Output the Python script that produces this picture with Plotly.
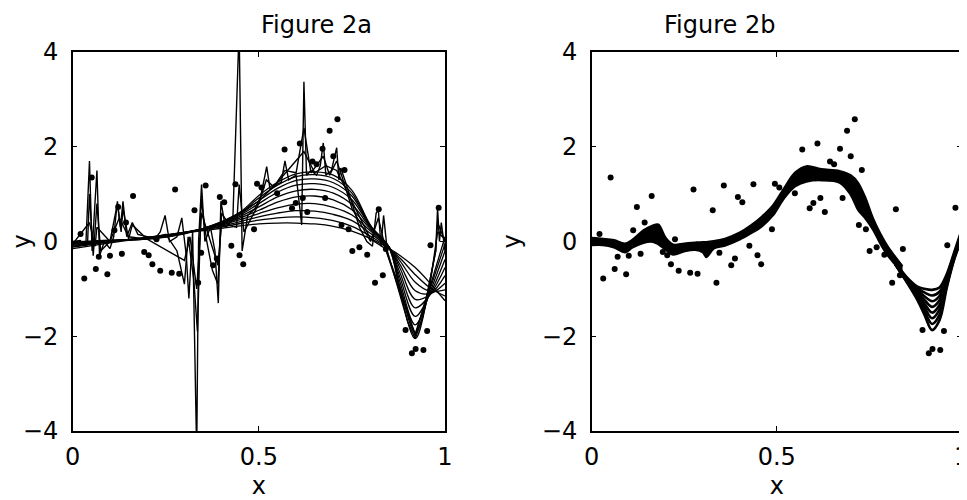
import plotly.graph_objects as go
from plotly.subplots import make_subplots

# observed data points (same sample in both panels)
pts_x = [0.021, 0.031, 0.051, 0.062, 0.070, 0.093, 0.100, 0.112, 0.122, 0.132,
         0.143, 0.162, 0.192, 0.204, 0.214, 0.225, 0.235, 0.266, 0.275, 0.286,
         0.327, 0.337, 0.345, 0.357, 0.377, 0.387, 0.395, 0.407, 0.426, 0.437,
         0.448, 0.458, 0.487, 0.495, 0.507, 0.549, 0.569, 0.589, 0.599, 0.610,
         0.618, 0.630, 0.644, 0.655, 0.671, 0.678, 0.690, 0.700, 0.711, 0.722,
         0.730, 0.741, 0.751, 0.770, 0.791, 0.812, 0.822, 0.833, 0.841, 0.894,
         0.911, 0.921, 0.942, 0.952, 0.961, 0.983]
pts_y = [0.16, -0.78, 1.35, -0.58, -0.32, -0.69, -0.30, 0.24, 0.73, -0.26,
         0.40, 0.96, -0.22, -0.29, -0.48, 0.05, -0.62, -0.66, 1.10, -0.68,
         0.66, -0.87, -0.24, 1.18, -0.50, -0.36, 0.94, 0.83, -0.09, 1.21,
         -0.29, -0.48, 0.26, 1.22, 1.14, 1.02, 1.94, 0.70, 0.81, 2.07,
         0.92, 0.62, 1.69, 1.63, 1.96, 0.92, 2.34, 1.80, 2.58, 0.35,
         1.51, 0.26, -0.20, -0.12, -0.28, -0.87, 0.68, -0.71, -0.16, -1.87,
         -2.36, -2.27, -2.29, -1.89, -0.08, 0.71]

# Figure 2a: family of smooth fits
x_fam = [0, 0.1, 0.2, 0.3, 0.4, 0.45, 0.5, 0.55, 0.6, 0.65, 0.7, 0.75, 0.8, 0.85, 0.88, 0.92, 0.96, 1.0]
fam_a = [
    [-0.15, -0.03, 0.08, 0.18, 0.28, 0.33, 0.37, 0.39, 0.39, 0.37, 0.32, 0.22, 0.06, -0.15, -0.30, -0.55, -0.88, -1.25],
    [-0.12, -0.01, 0.09, 0.19, 0.31, 0.38, 0.45, 0.50, 0.52, 0.50, 0.44, 0.32, 0.11, -0.15, -0.36, -0.70, -0.98, -1.15],
    [-0.10, 0.00, 0.08, 0.19, 0.33, 0.42, 0.52, 0.60, 0.65, 0.64, 0.57, 0.44, 0.17, -0.14, -0.42, -0.86, -1.05, -1.02],
    [-0.08, 0.00, 0.08, 0.19, 0.35, 0.46, 0.59, 0.71, 0.79, 0.80, 0.72, 0.56, 0.22, -0.13, -0.50, -1.04, -1.10, -0.88],
    [-0.06, 0.01, 0.07, 0.19, 0.37, 0.50, 0.66, 0.83, 0.94, 0.96, 0.88, 0.67, 0.26, -0.12, -0.58, -1.22, -1.12, -0.72],
    [-0.05, 0.01, 0.07, 0.18, 0.38, 0.53, 0.73, 0.94, 1.07, 1.10, 1.02, 0.78, 0.29, -0.12, -0.68, -1.40, -1.12, -0.55],
    [-0.04, 0.02, 0.06, 0.18, 0.39, 0.56, 0.80, 1.04, 1.19, 1.22, 1.14, 0.88, 0.31, -0.12, -0.78, -1.58, -1.10, -0.38],
    [-0.03, 0.02, 0.06, 0.17, 0.40, 0.58, 0.86, 1.12, 1.29, 1.32, 1.24, 0.96, 0.32, -0.12, -0.88, -1.76, -1.06, -0.20],
    [-0.02, 0.02, 0.05, 0.17, 0.41, 0.60, 0.92, 1.19, 1.37, 1.41, 1.33, 1.02, 0.33, -0.13, -0.98, -1.92, -1.00, -0.05],
    [-0.01, 0.03, 0.05, 0.16, 0.42, 0.62, 0.97, 1.25, 1.43, 1.47, 1.40, 1.08, 0.34, -0.14, -1.08, -2.05, -0.95, 0.10],
]

# Figure 2a: rough (nearly interpolating) fits
rough1_x = [0.0, 0.02, 0.035, 0.045, 0.052, 0.065, 0.072, 0.085, 0.1, 0.11, 0.12, 0.128, 0.135, 0.145,
            0.16, 0.175, 0.2, 0.22, 0.235, 0.248, 0.26, 0.28, 0.293, 0.305, 0.312, 0.322, 0.333, 0.338,
            0.346, 0.355, 0.37, 0.382, 0.391, 0.398, 0.41, 0.43, 0.447, 0.455, 0.47, 0.49, 0.505, 0.521,
            0.53, 0.545, 0.56, 0.57, 0.58, 0.6, 0.615, 0.621, 0.628, 0.64, 0.655, 0.665, 0.673, 0.68,
            0.695, 0.709, 0.715, 0.72, 0.735, 0.75, 0.77, 0.79, 0.805, 0.815, 0.821, 0.828, 0.835, 0.845,
            0.87, 0.9, 0.92, 0.94, 0.96, 0.975, 0.98, 0.985, 0.99, 1.0]
rough1_y = [0.0, 0.02, -0.1, 1.7, -0.2, 1.5, -0.3, 0.0, -0.15, 0.1, 0.85, 0.3, 0.85, 0.1,
            0.4, 0.15, 0.1, 0.05, 0.2, 0.55, 0.0, 0.1, 0.5, -0.3, -1.2, 0.2, -4.5, 0.0,
            1.2, 0.0, 0.3, -0.2, -1.3, 0.85, 0.3, 0.45, 4.5, -0.2, 0.55, 0.7, 0.95, 1.58,
            1.1, 1.2, 1.25, 1.7, 1.3, 1.4, 0.35, 3.37, 1.4, 1.5, 1.4, 1.6, 2.08, 1.4,
            1.5, 1.98, 1.3, 1.55, 1.2, 0.8, 0.3, 0.0, -0.1, 0.6, 0.66, -0.1, 0.55, -0.2,
            -0.9, -1.7, -2.05, -1.6, -0.8, -0.2, 0.7, 0.0, 0.4, -0.2]

rough2_x = [0.0, 0.04, 0.045, 0.055, 0.065, 0.075, 0.1, 0.12, 0.13, 0.135, 0.15, 0.16, 0.2, 0.25,
            0.28, 0.3, 0.31, 0.325, 0.335, 0.345, 0.36, 0.375, 0.39, 0.4, 0.42, 0.44, 0.447, 0.46,
            0.5, 0.52, 0.54, 0.57, 0.6, 0.621, 0.64, 0.673, 0.69, 0.709, 0.72, 0.75, 0.8, 0.821,
            0.84, 0.88, 0.92, 0.95, 0.975, 0.98, 1.0]
rough2_y = [-0.05, 0.0, 1.0, -0.3, 0.8, -0.2, 0.0, 0.8, 0.2, 0.7, 0.05, 0.35, 0.05, 0.15,
            -0.2, -0.9, 0.1, -0.8, -1.9, 0.9, 0.0, -0.6, -0.9, 0.6, 0.35, 0.3, 1.2, 0.2,
            0.8, 1.3, 1.15, 1.5, 1.45, 2.4, 1.45, 1.8, 1.4, 1.7, 1.45, 0.7, 0.0, 0.5,
            -0.15, -1.1, -1.95, -1.2, -0.2, 0.4, 0.0]

rough3_x = [0.0, 0.045, 0.06, 0.065, 0.1, 0.125, 0.15, 0.2, 0.3, 0.315, 0.333, 0.346, 0.39, 0.4,
            0.447, 0.5, 0.55, 0.621, 0.65, 0.68, 0.709, 0.75, 0.8, 0.84, 0.88, 0.92, 0.96, 0.98, 1.0]
rough3_y = [-0.05, 0.4, -0.1, 0.3, 0.0, 0.5, 0.1, 0.05, -0.4, 0.1, -1.0, 0.6, -0.5, 0.4,
            0.6, 0.85, 1.25, 1.9, 1.45, 1.6, 1.5, 0.85, 0.05, -0.15, -1.0, -2.0, -0.9, 0.2, 0.05]

# Figure 2b: envelope of the bundle of fits
band_x = [0.0, 0.03, 0.06, 0.09, 0.11, 0.14, 0.165, 0.18, 0.2, 0.22, 0.25, 0.28, 0.3, 0.31, 0.33,
          0.36, 0.4, 0.43, 0.46, 0.49, 0.52, 0.55, 0.58, 0.62, 0.67, 0.7, 0.72, 0.74, 0.76, 0.78,
          0.8, 0.83, 0.84]
band_hi = [0.08, 0.06, 0.03, -0.04, 0.04, 0.24, 0.34, 0.36, 0.08, -0.06, -0.04, -0.02, -0.01, -0.01, 0.01,
           0.06, 0.19, 0.34, 0.53, 0.77, 1.13, 1.46, 1.59, 1.53, 1.49, 1.4, 1.24, 0.92, 0.5, 0.17,
           -0.1, -0.42, -0.52]
band_lo = [-0.08, -0.08, -0.13, -0.23, -0.13, -0.03, -0.01, -0.06, -0.18, -0.28, -0.21, -0.18, -0.23, -0.33, -0.15,
           -0.09, 0.04, 0.17, 0.32, 0.55, 0.91, 1.16, 1.26, 1.29, 1.24, 0.98, 0.66, 0.48, 0.25, -0.05,
           -0.3, -0.57, -0.64]

# Figure 2b: separate fits in the dip
x_dip = [0.82, 0.85, 0.88, 0.9, 0.92, 0.94, 0.96, 0.98, 1.0]
dip_b = [
    [-0.44, -0.74, -0.95, -1.00, -1.02, -0.97, -0.68, -0.22, 0.25],
    [-0.45, -0.76, -0.99, -1.08, -1.14, -1.06, -0.72, -0.25, 0.22],
    [-0.46, -0.77, -1.03, -1.16, -1.26, -1.15, -0.76, -0.27, 0.19],
    [-0.46, -0.78, -1.07, -1.24, -1.38, -1.24, -0.80, -0.29, 0.16],
    [-0.47, -0.80, -1.11, -1.32, -1.50, -1.34, -0.84, -0.31, 0.13],
    [-0.47, -0.81, -1.15, -1.40, -1.62, -1.44, -0.88, -0.33, 0.10],
    [-0.48, -0.83, -1.19, -1.48, -1.74, -1.55, -0.92, -0.35, 0.07],
    [-0.48, -0.84, -1.23, -1.56, -1.87, -1.66, -0.96, -0.37, 0.04],
]

font = dict(family="DejaVu Sans, sans-serif", size=24, color="black")

fig = make_subplots(rows=1, cols=2)

for ys in fam_a:
    fig.add_trace(go.Scatter(x=x_fam, y=ys, mode="lines", line=dict(color="black", width=1.3, shape="spline")),
                  row=1, col=1)
for rx, ry in [(rough3_x, rough3_y), (rough2_x, rough2_y), (rough1_x, rough1_y)]:
    fig.add_trace(go.Scatter(x=rx, y=ry, mode="lines", line=dict(color="black", width=1.4)), row=1, col=1)
fig.add_trace(go.Scatter(x=pts_x, y=pts_y, mode="markers", marker=dict(color="black", size=6)), row=1, col=1)

fig.add_trace(go.Scatter(x=band_x, y=band_lo, mode="lines", line=dict(color="black", width=2, shape="spline")),
              row=1, col=2)
fig.add_trace(go.Scatter(x=band_x, y=band_hi, mode="lines", fill="tonexty", fillcolor="black",
                         line=dict(color="black", width=2, shape="spline")), row=1, col=2)
for ys in dip_b:
    fig.add_trace(go.Scatter(x=x_dip, y=ys, mode="lines", line=dict(color="black", width=2.6, shape="spline")),
                  row=1, col=2)
fig.add_trace(go.Scatter(x=pts_x, y=pts_y, mode="markers", marker=dict(color="black", size=6)), row=1, col=2)

axis_style = dict(showline=True, linecolor="black", linewidth=1.5, mirror="ticks", ticks="inside",
                  ticklen=5, tickcolor="black", showgrid=False, zeroline=False, tickfont=font,
                  automargin=False, ticklabeloverflow="allow")
fig.update_xaxes(range=[0, 1], tickvals=[0, 0.5, 1], ticktext=["0", "0.5", "1"],
                 title=dict(text="x", font=font, standoff=14), ticklabelstandoff=3, **axis_style)
fig.update_yaxes(range=[-4, 4], tickvals=[-4, -2, 0, 2, 4],
                 title=dict(text="y", font=font, standoff=14), ticklabelstandoff=8, **axis_style)
# the page adds an 8px body margin, so the figure is offset by 8px inside the 967x500 window
fig.update_layout(
    xaxis=dict(domain=[0.0675, 0.4557]),
    xaxis2=dict(domain=[0.6087, 0.9945]),
    yaxis=dict(domain=[0.1402, 0.9106]),
    yaxis2=dict(domain=[0.1402, 0.9106]),
    width=959, height=492,
    margin=dict(l=0, r=0, t=0, b=0),
    paper_bgcolor="white", plot_bgcolor="white",
    showlegend=False,
    font=font,
    annotations=[
        dict(text="Figure 2a", x=0.2616, y=0.9654, xref="paper", yref="paper", yanchor="middle",
             showarrow=False, font=font),
        dict(text="Figure 2b", x=0.8016, y=0.9654, xref="paper", yref="paper", yanchor="middle",
             showarrow=False, font=font),
    ],
)

fig.write_html("out.html")
